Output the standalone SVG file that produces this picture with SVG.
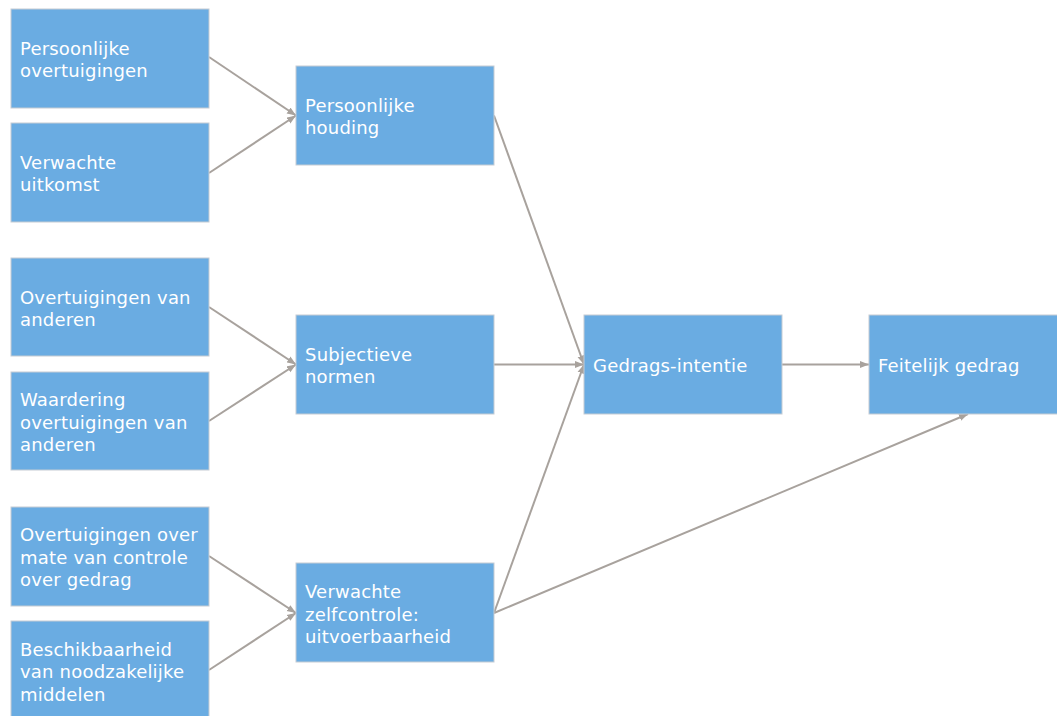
<svg xmlns="http://www.w3.org/2000/svg" width="1057" height="716" viewBox="0 0 1057 716">
<style>
.box{fill:#6aace2;stroke:#c5ccd3;stroke-width:1}
.t{font-family:"DejaVu Sans",Verdana,sans-serif;font-size:18px;fill:#ffffff;letter-spacing:0.2px}
.c{stroke:#a8a29d;stroke-width:2;fill:none;marker-end:url(#ah)}
</style>
<defs>
<marker id="ah" markerUnits="userSpaceOnUse" markerWidth="10" markerHeight="8" refX="9" refY="4" orient="auto">
<path d="M0,0.5 L9,4 L0,7.5 z" fill="#a8a29d"/>
</marker>
</defs>
<rect width="1057" height="716" fill="#ffffff"/>
<g id="connectors">
<line class="c" x1="209" y1="57" x2="296" y2="115.5"/>
<line class="c" x1="209" y1="173" x2="296" y2="115.5"/>
<line class="c" x1="209" y1="307" x2="296" y2="364.5"/>
<line class="c" x1="209" y1="421" x2="296" y2="364.5"/>
<line class="c" x1="209" y1="556" x2="296" y2="613"/>
<line class="c" x1="209" y1="670" x2="296" y2="613"/>
<line class="c" x1="494" y1="115.5" x2="584" y2="364.5"/>
<line class="c" x1="494" y1="364.5" x2="584" y2="364.5"/>
<line class="c" x1="494" y1="613" x2="584" y2="364.5"/>
<line class="c" x1="494" y1="613" x2="968" y2="414"/>
<line class="c" x1="782" y1="364.5" x2="869" y2="364.5"/>
</g>
<g id="n1"><rect class="box" x="11" y="9" width="198" height="99"/><text class="t" x="20" y="55">Persoonlijke</text><text class="t" x="20" y="77">overtuigingen</text></g>
<g id="n2"><rect class="box" x="11" y="123" width="198" height="99"/><text class="t" x="20" y="169">Verwachte</text><text class="t" x="20" y="191">uitkomst</text></g>
<g id="n3"><rect class="box" x="11" y="258" width="198" height="98"/><text class="t" x="20" y="304">Overtuigingen van</text><text class="t" x="20" y="326">anderen</text></g>
<g id="n4"><rect class="box" x="11" y="372" width="198" height="98"/><text class="t" x="20" y="406">Waardering</text><text class="t" x="20" y="429">overtuigingen van</text><text class="t" x="20" y="451">anderen</text></g>
<g id="n5"><rect class="box" x="11" y="507" width="198" height="99"/><text class="t" x="20" y="541">Overtuigingen over</text><text class="t" x="20" y="564">mate van controle</text><text class="t" x="20" y="586">over gedrag</text></g>
<g id="n6"><rect class="box" x="11" y="621" width="198" height="99"/><text class="t" x="20" y="656">Beschikbaarheid</text><text class="t" x="20" y="678">van noodzakelijke</text><text class="t" x="20" y="701">middelen</text></g>
<g id="m1"><rect class="box" x="296" y="66" width="198" height="99"/><text class="t" x="305" y="112">Persoonlijke</text><text class="t" x="305" y="134">houding</text></g>
<g id="m2"><rect class="box" x="296" y="315" width="198" height="99"/><text class="t" x="305" y="361">Subjectieve</text><text class="t" x="305" y="383">normen</text></g>
<g id="m3"><rect class="box" x="296" y="563" width="198" height="99"/><text class="t" x="305" y="598">Verwachte</text><text class="t" x="305" y="621">zelfcontrole:</text><text class="t" x="305" y="643">uitvoerbaarheid</text></g>
<g id="gi"><rect class="box" x="584" y="315" width="198" height="99"/><text class="t" x="593" y="372">Gedrags-intentie</text></g>
<g id="fg"><rect class="box" x="869" y="315" width="198" height="99"/><text class="t" x="878" y="372">Feitelijk gedrag</text></g>
</svg>
